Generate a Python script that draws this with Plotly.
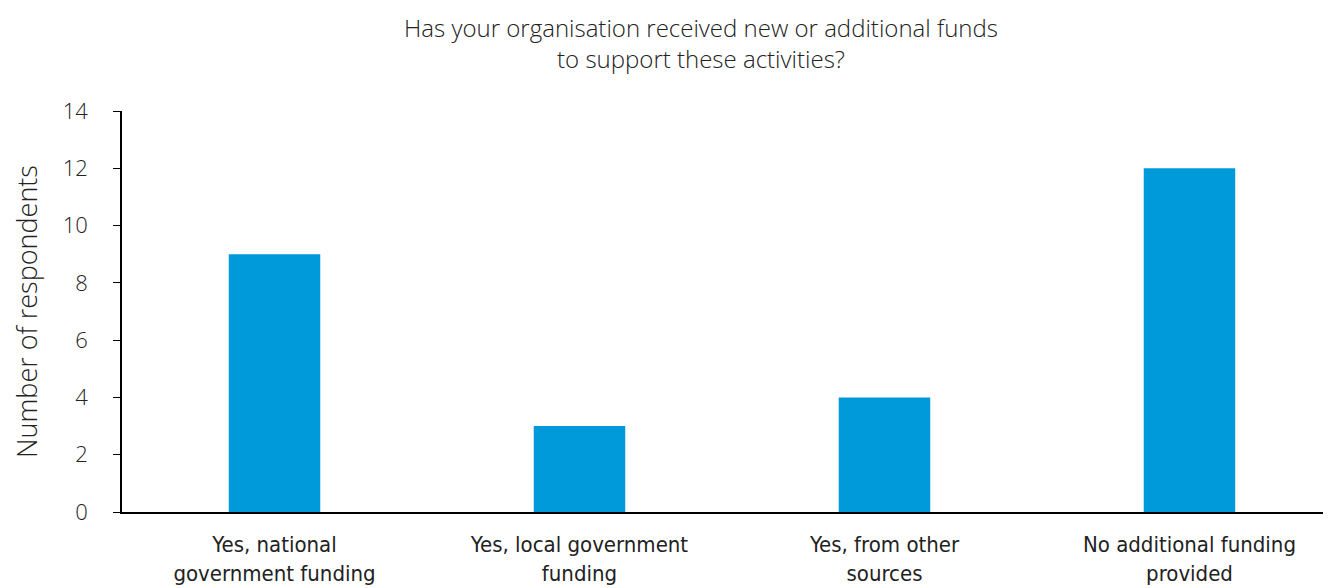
import plotly.graph_objects as go

categories = ["Yes, national<br>government funding", "Yes, local government<br>funding",
              "Yes, from other<br>sources", "No additional funding<br>provided"]
values = [9, 3, 4, 12]
y_ticks = [0, 2, 4, 6, 8, 10, 12, 14]

fig = go.Figure()
fig.add_trace(go.Bar(x=list(range(len(categories))), y=values, width=0.3,
                     marker=dict(color="#0099DA", line=dict(width=0))))

W, H = 1323, 580
fig.update_layout(
    width=W, height=H,
    margin=dict(l=114, r=0, t=103, b=76, autoexpand=False),
    paper_bgcolor="white", plot_bgcolor="white",
    showlegend=False,
    font=dict(family="Open Sans", color="#222222"),
    title=dict(text="Has your organisation received new or additional funds<br>to support these activities?",
               x=693/W, xanchor="center", y=1 - 29/H, yanchor="middle",
               font=dict(family="Open Sans", size=24, weight=300, color="#222222")),
)
fig.update_xaxes(range=[-0.5, 3.464], tickvals=list(range(len(categories))), ticktext=categories,
                 showline=True, linecolor="black", linewidth=1.5, ticks="", showgrid=False,
                 automargin=False, ticklabelstandoff=12,
                 tickfont=dict(family="DejaVu Sans Condensed, Liberation Sans Narrow, Open Sans", size=22,
                               weight=300, color="#222222"))
fig.update_yaxes(range=[0, 14], tickvals=y_ticks, showline=True, linecolor="black", linewidth=1.5,
                 ticks="outside", ticklen=7, tickcolor="black", showgrid=False, zeroline=False,
                 automargin=False, ticklabelstandoff=21,
                 tickfont=dict(family="Open Sans", size=22, weight=300, color="#222222"),
                 title=dict(text="Number of respondents", standoff=30,
                            font=dict(family="Open Sans", size=27, weight=300, color="#222222")))

fig.write_html("out.html")
